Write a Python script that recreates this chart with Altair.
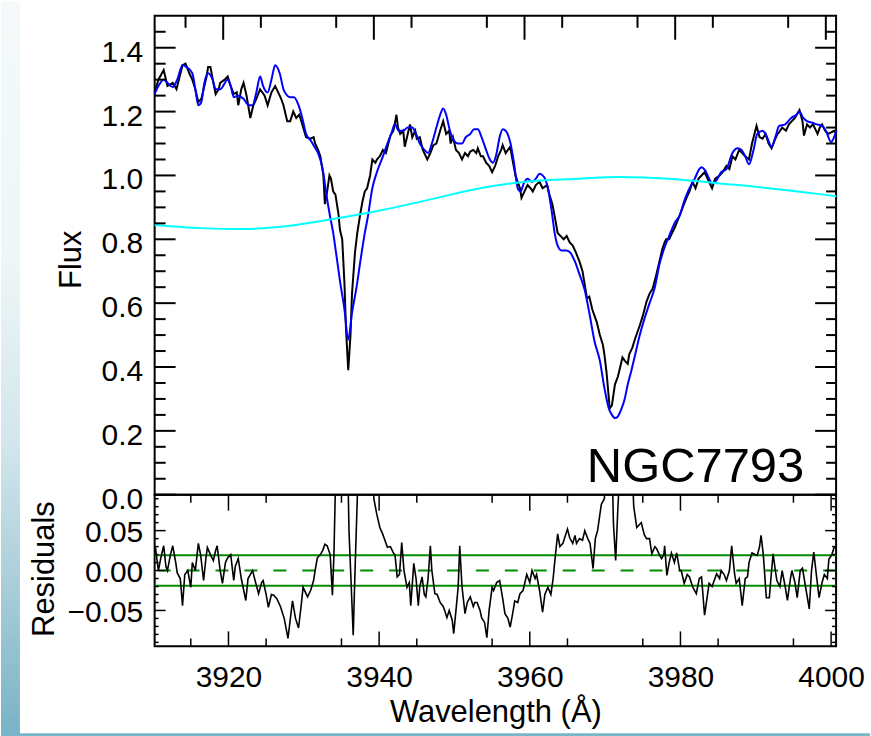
import altair as alt
import pandas as pd

# ---------------- data ----------------
obs_wave = [3910.9, 3911.4, 3912.1, 3912.6, 3913.3, 3913.8, 3914.6, 3915.0, 3915.5, 3915.9,
            3916.3, 3916.7, 3917.1, 3917.4, 3917.8, 3918.0, 3918.3, 3918.7, 3919.0, 3919.4,
            3919.6, 3920.2, 3920.6, 3921.0, 3921.4, 3921.8, 3922.0, 3922.4, 3922.7, 3923.1,
            3923.6, 3924.0, 3924.4, 3924.9, 3925.5, 3925.9, 3926.4, 3926.9, 3927.3, 3927.7,
            3928.0, 3928.5, 3928.9, 3929.3, 3929.7, 3930.1, 3930.5, 3931.0, 3931.6, 3932.0,
            3932.2, 3932.6, 3932.9, 3933.3, 3933.5, 3933.8, 3934.1, 3934.3, 3934.6, 3934.9,
            3935.3, 3935.5, 3935.8, 3936.1, 3936.3, 3936.6, 3936.9, 3937.1, 3937.5, 3937.8,
            3938.2, 3938.5, 3938.8, 3939.1, 3939.5, 3939.8, 3940.2, 3940.4, 3940.8, 3941.2,
            3941.6, 3942.2, 3942.6, 3943.0, 3943.2, 3943.5, 3943.9, 3944.1, 3944.5, 3944.8,
            3945.1, 3945.5, 3945.7, 3946.1, 3946.5, 3947.1, 3947.5, 3947.9, 3948.3, 3948.8,
            3949.2, 3949.6, 3950.0, 3950.2, 3950.5, 3950.9, 3951.3, 3951.7, 3952.1, 3952.5,
            3952.8, 3953.2, 3953.6, 3953.8, 3954.2, 3954.5, 3954.9, 3955.3, 3955.7, 3956.1,
            3956.5, 3956.9, 3957.1, 3957.5, 3958.1, 3958.4, 3958.8, 3959.1, 3959.4, 3959.6,
            3960.0, 3960.4, 3960.8, 3961.1, 3961.5, 3962.0, 3962.4, 3963.0, 3963.3, 3963.7,
            3964.1, 3964.4, 3964.8, 3965.2, 3965.6, 3966.0, 3966.4, 3966.8, 3967.3, 3967.7,
            3968.3, 3968.6, 3969.0, 3969.6, 3970.0, 3970.4, 3970.6, 3970.9, 3971.2, 3971.3,
            3971.6, 3972.0, 3972.4, 3972.6, 3973.0, 3973.3, 3973.7, 3973.9, 3974.3, 3974.7,
            3975.3, 3975.7, 3976.2, 3976.6, 3977.0, 3977.4, 3977.9, 3978.3, 3978.6, 3978.8,
            3979.2, 3979.6, 3980.0, 3980.6, 3981.0, 3981.5, 3981.9, 3982.3, 3982.7, 3983.1,
            3983.5, 3983.9, 3984.3, 3984.7, 3984.9, 3985.3, 3985.9, 3986.3, 3986.8, 3987.2,
            3987.6, 3988.0, 3988.5, 3988.9, 3989.3, 3989.8, 3990.2, 3990.8, 3991.2, 3991.6,
            3992.0, 3992.4, 3992.8, 3993.2, 3993.6, 3993.8, 3994.2, 3994.7, 3995.1, 3995.5,
            3995.9, 3996.5, 3996.9, 3997.1, 3997.5, 3997.9, 3998.3, 3998.9, 3999.2, 3999.5,
            3999.9, 4000.3, 4000.7, 4001.1, 4001.4]
obs_flux = [1.26, 1.30, 1.33, 1.28, 1.29, 1.27, 1.345, 1.35, 1.32, 1.30,
            1.27, 1.23, 1.24, 1.27, 1.31, 1.34, 1.34, 1.29, 1.255, 1.27,
            1.29, 1.30, 1.31, 1.28, 1.255, 1.26, 1.22, 1.27, 1.29, 1.25,
            1.18, 1.22, 1.24, 1.27, 1.25, 1.22, 1.26, 1.28, 1.26, 1.24,
            1.22, 1.17, 1.17, 1.20, 1.18, 1.19, 1.16, 1.12, 1.115, 1.12,
            1.10, 1.08, 1.06, 1.00, 0.91, 0.95, 1.00, 0.99, 0.95, 0.94,
            0.88, 0.83, 0.80, 0.66, 0.52, 0.39, 0.50, 0.63, 0.76, 0.82,
            0.88, 0.92, 0.95, 0.96, 1.00, 1.05, 1.04, 1.05, 1.06, 1.08,
            1.07, 1.125, 1.14, 1.19, 1.15, 1.13, 1.14, 1.09, 1.13, 1.16,
            1.12, 1.14, 1.115, 1.12, 1.08, 1.05, 1.07, 1.095, 1.10, 1.14,
            1.17, 1.13, 1.14, 1.10, 1.12, 1.08, 1.07, 1.05, 1.07, 1.06,
            1.075, 1.08, 1.07, 1.085, 1.06, 1.06, 1.04, 1.03, 1.01, 1.03,
            1.06, 1.08, 1.095, 1.07, 1.09, 1.05, 1.00, 0.98, 0.96, 0.93,
            0.95, 0.97, 0.96, 0.95, 0.97, 0.98, 0.96, 0.97, 0.94, 0.91,
            0.86, 0.82, 0.81, 0.80, 0.81, 0.79, 0.78, 0.76, 0.73, 0.70,
            0.615, 0.62, 0.58, 0.54, 0.50, 0.47, 0.44, 0.38, 0.30, 0.27,
            0.28, 0.345, 0.37, 0.39, 0.43, 0.42, 0.41, 0.44, 0.46, 0.49,
            0.53, 0.56, 0.605, 0.63, 0.645, 0.68, 0.73, 0.77, 0.79, 0.80,
            0.80, 0.82, 0.84, 0.875, 0.90, 0.93, 0.95, 0.98, 0.96, 0.99,
            1.00, 1.01, 0.99, 0.97, 0.96, 0.99, 1.00, 1.01, 1.03, 1.02,
            1.06, 1.05, 1.08, 1.07, 1.06, 1.05, 1.10, 1.155, 1.12, 1.115,
            1.13, 1.10, 1.085, 1.11, 1.13, 1.135, 1.15, 1.14, 1.16, 1.17,
            1.18, 1.205, 1.17, 1.125, 1.16, 1.15, 1.16, 1.13, 1.15, 1.16,
            1.14, 1.13, 1.135, 1.14, 1.13]

model_wave = [3910.9, 3911.4, 3912.1, 3912.6, 3913.3, 3913.9, 3914.6, 3915.1, 3915.9, 3916.3,
              3916.7, 3917.1, 3917.5, 3918.0, 3918.6, 3919.0, 3919.6, 3920.6, 3921.0, 3921.4,
              3922.0, 3922.7, 3923.4, 3923.9, 3924.4, 3924.9, 3925.3, 3925.9, 3926.4, 3926.9,
              3927.5, 3928.0, 3928.5, 3928.9, 3929.4, 3930.0, 3930.5, 3931.0, 3931.6, 3932.1,
              3932.6, 3933.2, 3933.7, 3934.2, 3934.6, 3935.0, 3935.5, 3936.1, 3936.6, 3937.1,
              3937.7, 3938.2, 3938.8, 3939.2, 3939.8, 3940.4, 3941.2, 3941.8, 3942.3, 3942.8,
              3943.3, 3943.9, 3944.5, 3945.1, 3945.6, 3946.1, 3946.7, 3947.2, 3947.7, 3948.3,
              3948.8, 3949.2, 3949.6, 3950.1, 3950.6, 3951.2, 3951.7, 3952.2, 3952.8, 3953.3,
              3953.8, 3954.3, 3954.9, 3955.4, 3955.8, 3956.2, 3956.7, 3957.1, 3957.5, 3958.1,
              3958.6, 3959.1, 3959.5, 3959.9, 3960.4, 3961.0, 3961.5, 3962.0, 3962.6, 3963.1,
              3963.6, 3964.0, 3964.4, 3964.9, 3965.5, 3966.0, 3966.7, 3967.3, 3968.0, 3968.6,
              3969.3, 3970.0, 3970.6, 3971.2, 3971.6, 3972.0, 3972.4, 3972.8, 3973.3, 3973.7,
              3974.2, 3974.7, 3975.3, 3975.9, 3976.6, 3977.3, 3977.9, 3978.6, 3979.2, 3979.9,
              3980.6, 3981.2, 3981.9, 3982.6, 3983.2, 3983.5, 3984.0, 3984.5, 3984.9, 3985.5,
              3986.1, 3986.8, 3987.6, 3988.3, 3988.8, 3989.3, 3989.8, 3990.4, 3990.9, 3991.6,
              3992.1, 3992.8, 3993.3, 3993.8, 3994.6, 3995.4, 3996.1, 3996.5, 3997.0, 3997.5,
              3998.2, 3998.8, 3999.5, 4000.0, 4000.7, 4001.1, 4001.4]
model_flux = [1.255, 1.28, 1.30, 1.29, 1.277, 1.30, 1.345, 1.34, 1.32, 1.27,
              1.22, 1.23, 1.29, 1.32, 1.30, 1.27, 1.27, 1.30, 1.28, 1.245,
              1.25, 1.24, 1.22, 1.22, 1.26, 1.31, 1.28, 1.26, 1.30, 1.345,
              1.32, 1.27, 1.25, 1.245, 1.245, 1.22, 1.18, 1.13, 1.11, 1.09,
              1.07, 1.02, 0.94, 0.87, 0.82, 0.755, 0.67, 0.58, 0.485, 0.57,
              0.65, 0.73, 0.82, 0.87, 0.96, 1.01, 1.06, 1.10, 1.13, 1.16,
              1.14, 1.14, 1.15, 1.15, 1.13, 1.10, 1.08, 1.07, 1.10, 1.15,
              1.19, 1.21, 1.19, 1.14, 1.11, 1.10, 1.10, 1.12, 1.13, 1.145,
              1.145, 1.12, 1.08, 1.05, 1.04, 1.06, 1.12, 1.145, 1.14, 1.105,
              1.04, 0.96, 0.95, 0.975, 0.99, 0.98, 0.99, 1.005, 0.995, 0.96,
              0.89, 0.82, 0.78, 0.765, 0.765, 0.76, 0.73, 0.69, 0.64, 0.57,
              0.48, 0.42, 0.335, 0.27, 0.25, 0.24, 0.245, 0.265, 0.30, 0.345,
              0.39, 0.44, 0.50, 0.55, 0.60, 0.65, 0.72, 0.775, 0.81, 0.85,
              0.875, 0.92, 0.96, 0.99, 1.02, 1.026, 1.015, 0.99, 0.975, 0.985,
              1.01, 1.02, 1.07, 1.085, 1.08, 1.06, 1.035, 1.08, 1.13, 1.14,
              1.125, 1.09, 1.12, 1.155, 1.16, 1.18, 1.19, 1.20, 1.18, 1.17,
              1.165, 1.16, 1.155, 1.14, 1.105, 1.12, 1.14]

cont_wave = [3910.9, 3917.0, 3922.3, 3927.6, 3934.2, 3940.8, 3947.5, 3954.1,
             3960.7, 3967.3, 3972.6, 3979.2, 3985.9, 3992.5, 4001.4]
cont_flux = [0.845, 0.835, 0.832, 0.839, 0.862, 0.89, 0.925, 0.96,
             0.982, 0.99, 0.995, 0.99, 0.975, 0.96, 0.935]

resid_wave = [3910.3, 3910.7, 3911.0, 3911.4, 3911.7, 3911.9, 3912.3, 3912.6, 3913.0, 3913.2,
              3913.6, 3913.9, 3914.2, 3914.6, 3915.0, 3915.2, 3915.6, 3916.0, 3916.3, 3916.7,
              3917.0, 3917.2, 3917.6, 3918.0, 3918.3, 3918.5, 3918.9, 3919.2, 3919.6, 3919.9,
              3920.3, 3920.7, 3920.9, 3921.3, 3921.7, 3922.3, 3922.6, 3923.2, 3923.6, 3924.0,
              3924.4, 3924.6, 3925.0, 3925.3, 3925.7, 3926.0, 3926.4, 3926.9, 3927.4, 3927.9,
              3928.5, 3928.9, 3929.3, 3929.7, 3929.9, 3930.5, 3930.9, 3931.3, 3931.5, 3931.8,
              3932.2, 3932.5, 3932.8, 3933.1, 3933.5, 3933.8, 3934.0, 3934.3, 3935.0, 3935.8,
              3936.0, 3936.3, 3936.56, 3936.8, 3937.1, 3937.2, 3939.1, 3939.3, 3939.7, 3940.1,
              3940.5, 3941.1, 3941.5, 3941.9, 3942.1, 3942.4, 3942.7, 3943.0, 3943.3, 3943.7,
              3944.0, 3944.2, 3944.6, 3944.9, 3945.2, 3945.4, 3945.7, 3946.0, 3946.2, 3946.5,
              3946.8, 3947.0, 3947.4, 3947.7, 3948.1, 3948.5, 3948.7, 3949.0, 3949.3, 3949.7,
              3949.9, 3950.2, 3950.5, 3950.7, 3951.0, 3951.4, 3951.7, 3952.1, 3952.5, 3952.7,
              3953.0, 3953.4, 3953.6, 3954.0, 3954.3, 3954.6, 3955.0, 3955.2, 3955.6, 3956.0,
              3956.4, 3956.7, 3957.1, 3957.4, 3957.8, 3958.0, 3958.4, 3958.7, 3959.1, 3959.6,
              3960.0, 3960.3, 3960.7, 3960.9, 3961.3, 3961.7, 3962.0, 3962.4, 3962.8, 3963.1,
              3963.3, 3963.7, 3964.0, 3964.4, 3964.6, 3965.0, 3965.3, 3965.7, 3966.0, 3966.2,
              3966.6, 3967.0, 3967.3, 3967.7, 3968.0, 3968.4, 3968.7, 3969.0, 3969.3, 3969.5,
              3969.9, 3970.2, 3970.9, 3971.1, 3971.4, 3971.7, 3972.1, 3973.5, 3973.8, 3974.2,
              3974.6, 3974.8, 3975.2, 3975.5, 3975.9, 3976.2, 3976.6, 3976.8, 3977.2, 3977.5,
              3977.8, 3977.9, 3978.2, 3978.5, 3978.8, 3979.2, 3979.5, 3979.9, 3980.1, 3980.5,
              3980.9, 3981.2, 3981.6, 3982.1, 3982.5, 3982.8, 3983.2, 3983.6, 3983.8, 3984.2,
              3984.8, 3985.2, 3985.4, 3985.8, 3986.1, 3986.5, 3986.8, 3987.2, 3987.4, 3987.8,
              3988.2, 3988.6, 3988.9, 3989.1, 3989.5, 3989.9, 3990.2, 3990.5, 3990.7, 3991.0,
              3991.4, 3991.8, 3992.1, 3992.3, 3992.6, 3992.8, 3993.2, 3993.5, 3993.9, 3994.2,
              3994.6, 3994.8, 3995.2, 3995.5, 3995.9, 3996.2, 3996.6, 3997.1, 3997.4, 3997.7,
              3998.1, 3998.4, 3998.8, 3999.1, 3999.5, 3999.7, 4000.1, 4000.4, 4000.7]
resid_val = [0.029, 0.0, 0.015, 0.031, 0.005, 0.0, 0.02, 0.031, 0.01, -0.003,
             -0.01, -0.044, -0.005, 0.0, -0.021, 0.01, 0.0, 0.034, 0.02, -0.0125,
             0.015, 0.029, 0.02, 0.0125, 0.025, 0.031, 0.0, -0.016, 0.01, 0.016,
             0.02, -0.0125, 0.005, 0.015, -0.01, -0.0375, -0.01, 0.0, -0.015, -0.029,
             -0.015, -0.0125, -0.03, -0.046, -0.03, -0.031, -0.035, -0.045, -0.06, -0.085,
             -0.038, -0.06, -0.072, -0.04, -0.021, -0.033, -0.025, -0.0125, 0.0, 0.016,
             0.02, 0.025, 0.033, 0.031, 0.02, -0.031, 0.02, 0.15, 0.15, 0.15,
             0.05, -0.02, -0.081, 0.0, 0.09, 0.15, 0.15, 0.09, 0.07, 0.054,
             0.045, 0.029, 0.03, 0.022, 0.02, -0.008, -0.005, 0.035, 0.0, -0.021,
             -0.015, -0.044, 0.009, -0.01, -0.044, -0.02, -0.008, -0.03, -0.033, -0.01,
             0.031, 0.0, -0.029, -0.03, -0.04, -0.045, -0.05, -0.059, -0.05, -0.062,
             -0.079, -0.05, -0.02, 0.031, -0.02, -0.054, -0.04, -0.033, -0.045, -0.04,
             -0.04, -0.05, -0.059, -0.065, -0.084, -0.05, -0.021, -0.025, -0.015, -0.0125,
             -0.035, -0.054, -0.06, -0.071, -0.05, -0.038, -0.04, -0.029, -0.025, -0.005,
             -0.015, 0.0, -0.01, -0.005, -0.025, -0.052, -0.03, -0.021, -0.03, -0.01,
             0.01, 0.046, 0.03, 0.034, 0.04, 0.052, 0.041, 0.034, 0.044, 0.034,
             0.04, 0.038, 0.05, 0.04, 0.034, 0.0025, 0.04, 0.05, 0.07, 0.083,
             0.09, 0.15, 0.15, 0.06, 0.0125, 0.08, 0.15, 0.15, 0.08, 0.054,
             0.058, 0.06, 0.045, 0.04, 0.04, 0.021, 0.03, 0.028, 0.02, 0.015,
             0.02, 0.031, -0.006, 0.01, 0.022, 0.01, 0.022, 0.0, 0.0, -0.016,
             -0.005, -0.008, -0.02, -0.029, -0.01, -0.008, -0.056, -0.03, -0.016, -0.02,
             -0.004, -0.01, 0.0, -0.005, -0.0125, 0.0, 0.031, -0.005, -0.016, -0.01,
             -0.044, -0.01, -0.008, 0.01, 0.022, 0.02, 0.019, 0.03, 0.044, 0.02,
             -0.034, -0.034, 0.0, 0.021, 0.0, -0.0125, -0.02, 0.0, -0.02, -0.0375,
             -0.01, 0.0, -0.015, -0.034, 0.0, 0.003, -0.02, -0.048, 0.0, 0.023,
             -0.01, -0.034, -0.015, -0.005, -0.01, 0.014, 0.02, 0.029, 0.03]

sigma_levels = [0.019, -0.019]
zero_level = [0.0]

label_text = ["NGC7793"]
label_wave = [3982.7]
label_flux = [0.04]

x_major = [3920, 3940, 3960, 3980, 4000]
x_minor = [3915, 3925, 3935, 3945, 3955, 3965, 3975, 3985, 3995]
flux_major = [0.0, 0.2, 0.4, 0.6, 0.8, 1.0, 1.2, 1.4]
flux_minor = [0.05, 0.1, 0.15, 0.25, 0.3, 0.35, 0.45, 0.5, 0.55, 0.65, 0.7, 0.75,
              0.85, 0.9, 0.95, 1.05, 1.1, 1.15, 1.25, 1.3, 1.35, 1.45]
res_major = [-0.05, 0.0, 0.05]
res_minor = [-0.09, -0.08, -0.07, -0.06, -0.04, -0.03, -0.02, -0.01,
             0.01, 0.02, 0.03, 0.04, 0.06, 0.07, 0.08, 0.09]

# ---------------- layout ----------------
W = 683
H_TOP = 480
H_BOT = 152
FONT = "Liberation Sans"

xs_top = alt.Scale(domain=[3910.9, 4001.36], nice=False, zero=False)
ys_top = alt.Scale(domain=[0.0, 1.5], nice=False, zero=False)
xs_bot = alt.Scale(domain=[3910.2, 4000.66], nice=False, zero=False)
ys_bot = alt.Scale(domain=[-0.095, 0.095], nice=False, zero=False)

# one axis object per channel, shared by every layer so that they merge
flux_axis = alt.Axis(values=flux_major, format=".1f", ticks=False, tickSize=0,
                     domain=False, grid=False, labelPadding=12, labelOffset=4.5,
                     labelFontSize=30, title="Flux", titleFontSize=31,
                     titleX=-74, titleY=244, titleBaseline="alphabetic")
wave_axis = alt.Axis(values=x_major, format="d", ticks=False, tickSize=0, domain=False,
                     grid=False, labelPadding=16, labelFontSize=30, labelFlush=False,
                     title="Wavelength (Å)", titleFontSize=31, titleX=W / 2,
                     titleY=75, titleBaseline="alphabetic")
res_axis = alt.Axis(values=res_major, format=".2f", ticks=False, tickSize=0,
                    domain=False, grid=False, labelPadding=12, labelOffset=2,
                    labelFontSize=30, title="Residuals", titleFontSize=31,
                    titleX=-101, titleY=74, titleBaseline="alphabetic")

XT = dict(scale=xs_top, axis=None)
YT = dict(scale=ys_top, axis=flux_axis)
XB = dict(scale=xs_bot, axis=wave_axis)
YB = dict(scale=ys_bot, axis=res_axis)


def xticks(vals, xkw, y0, y1, sw):
    return alt.Chart(pd.DataFrame({"t": vals})).mark_rule(color="black", strokeWidth=sw).encode(
        x=alt.X("t:Q", **xkw), y=alt.value(y0), y2=alt.value(y1))


def yticks(vals, ykw, x0, x1, sw):
    return alt.Chart(pd.DataFrame({"t": vals})).mark_rule(color="black", strokeWidth=sw).encode(
        y=alt.Y("t:Q", **ykw), x=alt.value(x0), x2=alt.value(x1))


one = pd.DataFrame({"a": [0]})
strip = alt.Chart(one).mark_rect(
    fill=alt.Gradient(
        gradient="linear",
        stops=[alt.GradientStop(color="#f4fafa", offset=0),
               alt.GradientStop(color="#eef6f8", offset=0.35),
               alt.GradientStop(color="#d2e6ec", offset=0.6),
               alt.GradientStop(color="#a8cdd8", offset=0.8),
               alt.GradientStop(color="#78b2c6", offset=1)],
        x1=0, x2=0, y1=0, y2=1)
).encode(x=alt.value(-154), x2=alt.value(-135), y=alt.value(-14), y2=alt.value(722))
bottom_band = alt.Chart(one).mark_rect(color="#78b6c8").encode(
    x=alt.value(-154), x2=alt.value(717), y=alt.value(719), y2=alt.value(722))

df_obs = pd.DataFrame({"w": obs_wave, "f": obs_flux})
df_mod = pd.DataFrame({"w": model_wave, "f": model_flux})
df_cont = pd.DataFrame({"w": cont_wave, "f": cont_flux})
df_lab = pd.DataFrame({"w": label_wave, "f": label_flux, "t": label_text})

obs_line = alt.Chart(df_obs).mark_line(color="black", strokeWidth=2).encode(
    x=alt.X("w:Q", **XT), y=alt.Y("f:Q", **YT), order="w:Q")
mod_line = alt.Chart(df_mod).mark_line(color="#0000ff", strokeWidth=2,
                                       interpolate="monotone").encode(
    x=alt.X("w:Q", **XT), y=alt.Y("f:Q", **YT))
cont_line = alt.Chart(df_cont).mark_line(color="#00ffff", strokeWidth=2,
                                         interpolate="monotone").encode(
    x=alt.X("w:Q", **XT), y=alt.Y("f:Q", **YT))
lab = alt.Chart(df_lab).mark_text(font=FONT, fontSize=49, align="center",
                                  baseline="alphabetic", color="black").encode(
    x=alt.X("w:Q", **XT), y=alt.Y("f:Q", **YT), text="t:N")

top = alt.layer(
    strip, bottom_band,
    obs_line, mod_line, cont_line, lab,
    xticks(x_major, XT, 0, 24, 2), xticks(x_minor, XT, 0, 12, 2),
    yticks(flux_major, YT, 0, 21, 2), yticks(flux_minor, YT, 0, 11, 2),
    yticks(flux_major, YT, W - 21, W, 2), yticks(flux_minor, YT, W - 10, W, 2),
).properties(width=W, height=H_TOP)

df_res = pd.DataFrame({"w": resid_wave, "r": resid_val})
df_sig = pd.DataFrame({"s": sigma_levels})
df_zero = pd.DataFrame({"s": zero_level})

res_line = alt.Chart(df_res).mark_line(color="black", strokeWidth=1.6, clip=True).encode(
    x=alt.X("w:Q", **XB), y=alt.Y("r:Q", **YB), order="w:Q")
sig_rule = alt.Chart(df_sig).mark_rule(color="#008c00", strokeWidth=2).encode(
    y=alt.Y("s:Q", **YB))
zero_rule = alt.Chart(df_zero).mark_rule(color="#008c00", strokeWidth=2,
                                         strokeDash=[13, 16]).encode(
    y=alt.Y("s:Q", **YB))

bottom = alt.layer(
    sig_rule, zero_rule, res_line,
    xticks(x_major, XB, H_BOT - 15, H_BOT, 1.5), xticks(x_minor, XB, H_BOT - 8, H_BOT, 1.5),
    xticks(x_major, XB, 0, 16, 1.5), xticks(x_minor, XB, 0, 8, 1.5),
    yticks(res_major, YB, 0, 11, 1.5), yticks(res_minor, YB, 0, 4, 1.5),
    yticks(res_major, YB, W - 11, W, 1.5), yticks(res_minor, YB, W - 4, W, 1.5),
).properties(width=W, height=H_BOT)

chart = alt.vconcat(top, bottom, spacing=0, bounds="flush").properties(
    padding=0, background="white"
).configure_view(stroke="black", strokeWidth=2).configure_axis(
    labelFont=FONT, titleFont=FONT, labelColor="black", titleColor="black",
    titleFontWeight="normal"
)

chart.save("out.html", embed_options={"renderer": "svg", "actions": False})
